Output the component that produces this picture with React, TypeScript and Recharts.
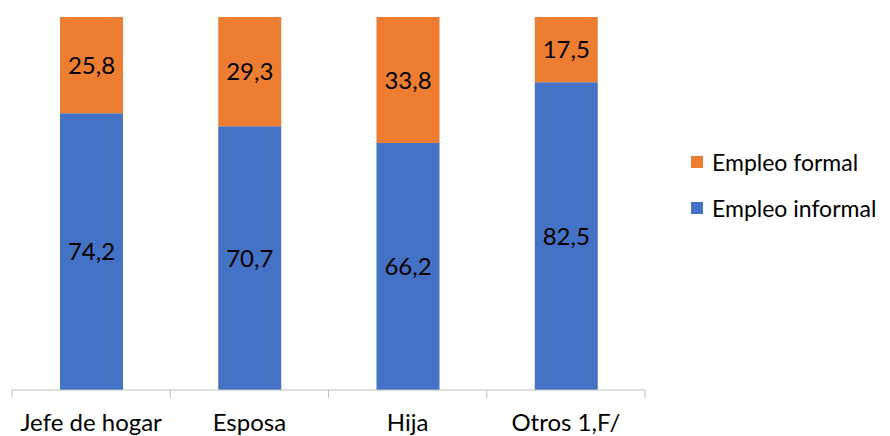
import { BarChart, Bar, XAxis, YAxis, LabelList } from 'recharts';

const categories = ['Jefe de hogar', 'Esposa', 'Hija', 'Otros 1,F/'];
const informal = [74.2, 70.7, 66.2, 82.5];
const formal = [25.8, 29.3, 33.8, 17.5];

const data = categories.map((name, i) => ({ name, informal: informal[i], formal: formal[i] }));

const FONT = 'Lato, "Open Sans", sans-serif';
const BLUE = '#4472C4';
const ORANGE = '#ED7D31';
const AXIS = '#bfbfbf';

const legendItems = [
  { label: 'Empleo formal', color: ORANGE },
  { label: 'Empleo informal', color: BLUE },
];

const fmt = (v: number) => String(v).replace('.', ',');

// label under the bar, tick marks on the category boundaries (Excel style)
function CategoryTick(props: any) {
  const { x, y, payload, index } = props;
  const half = payload?.offset ?? 0;
  const isLast = index === categories.length - 1;
  return (
    <g>
      <line x1={x - half} x2={x - half} y1={y - 2} y2={y + 6} stroke={AXIS} />
      {isLast && <line x1={x + half} x2={x + half} y1={y - 2} y2={y + 6} stroke={AXIS} />}
      <text x={x} y={y + 39} textAnchor="middle" fill="#000" fontSize={24} fontFamily={FONT}>
        {payload.value}
      </text>
    </g>
  );
}

export default function App() {
  return (
    <div style={{ position: 'absolute', left: 0, top: 0, width: 890, height: 436, background: '#fff' }}>
      <BarChart
        width={890}
        height={436}
        data={data}
        margin={{ top: 17, right: 245, left: 12, bottom: 0 }}
        barSize={63}
      >
        <XAxis
          dataKey="name"
          height={46}
          stroke={AXIS}
          tickLine={false}
          tickSize={0}
          tickMargin={2}
          tick={<CategoryTick />}
          interval={0}
        />
        <YAxis hide domain={[0, 100]} />
        <Bar dataKey="informal" stackId="a" fill={BLUE} isAnimationActive={false}>
          <LabelList dataKey="informal" position="center" formatter={fmt} fill="#000" fontSize={24} fontFamily={FONT} />
        </Bar>
        <Bar dataKey="formal" stackId="a" fill={ORANGE} isAnimationActive={false}>
          <LabelList dataKey="formal" position="center" formatter={fmt} fill="#000" fontSize={24} fontFamily={FONT} />
        </Bar>
      </BarChart>
      <div style={{ position: 'absolute', left: 691, top: 139, fontFamily: FONT, fontSize: 23, color: '#000' }}>
        {legendItems.map(it => (
          <div key={it.label} style={{ display: 'flex', alignItems: 'center', height: 46, whiteSpace: 'nowrap' }}>
            <span style={{ width: 12, height: 12, background: it.color, marginRight: 9, display: 'inline-block' }} />
            <span>{it.label}</span>
          </div>
        ))}
      </div>
    </div>
  );
}
